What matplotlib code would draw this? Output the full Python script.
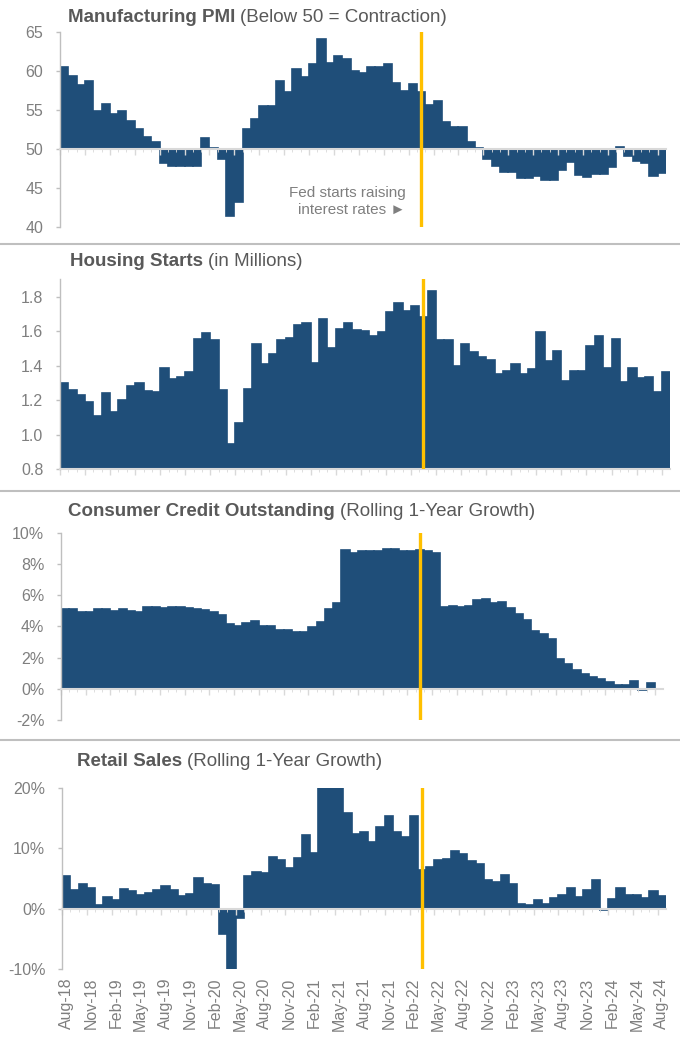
import matplotlib
matplotlib.use("Agg")
import matplotlib.pyplot as plt
import matplotlib.transforms as mtransforms
from matplotlib.lines import Line2D
import numpy as np
import pandas as pd

plt.rcParams["font.family"] = ["Liberation Sans", "DejaVu Sans"]

# ---- data (monthly, Aug-18 .. Aug-24) ----
months = list(pd.date_range("2018-08-01", periods=73, freq="MS").strftime("%b-%y"))
tick_labels = months[::3]
fed_hike = "Mar-22"

pmi = [60.6, 59.4, 58.3, 58.7, 54.9, 55.8, 54.5, 54.9, 53.6, 52.6,
       51.6, 51.0, 48.3, 47.9, 47.9, 47.9, 47.8, 51.4, 50.2, 48.8,
       41.5, 43.3, 52.6, 53.9, 55.5, 55.6, 58.8, 57.4, 60.3, 59.3,
       60.9, 64.2, 61.1, 61.9, 61.6, 60.1, 59.8, 60.6, 60.6, 60.9,
       58.5, 57.5, 58.4, 57.4, 55.7, 56.2, 53.5, 52.9, 52.9, 50.9,
       50.2, 48.8, 47.9, 47.1, 47.1, 46.3, 46.3, 46.6, 46.1, 46.1,
       47.3, 48.4, 46.7, 46.5, 46.8, 46.8, 47.7, 50.3, 49.1, 48.5,
       48.3, 46.6, 47.0]

housing = [1.300, 1.260, 1.230, 1.190, 1.110, 1.240, 1.130, 1.200, 1.280, 1.300,
           1.255, 1.247, 1.385, 1.320, 1.334, 1.364, 1.552, 1.587, 1.547, 1.260,
           0.946, 1.067, 1.263, 1.526, 1.410, 1.468, 1.549, 1.560, 1.637, 1.645,
           1.416, 1.669, 1.500, 1.612, 1.645, 1.606, 1.600, 1.574, 1.593, 1.712,
           1.762, 1.717, 1.748, 1.683, 1.833, 1.549, 1.549, 1.400, 1.526, 1.478,
           1.453, 1.433, 1.353, 1.372, 1.410, 1.353, 1.380, 1.593, 1.426, 1.483,
           1.314, 1.372, 1.372, 1.516, 1.574, 1.387, 1.552, 1.307, 1.387, 1.330,
           1.337, 1.249, 1.366]

# consumer credit ends Jul-24
credit = [5.10, 5.10, 4.95, 4.95, 5.10, 5.10, 4.97, 5.10, 5.01, 4.95,
          5.25, 5.25, 5.16, 5.25, 5.25, 5.16, 5.10, 5.03, 4.95, 4.73,
          4.13, 4.00, 4.20, 4.35, 4.00, 4.00, 3.79, 3.79, 3.64, 3.66,
          3.94, 4.30, 5.10, 5.52, 8.89, 8.68, 8.85, 8.80, 8.80, 8.93,
          8.97, 8.80, 8.85, 8.91, 8.80, 8.68, 5.26, 5.30, 5.26, 5.32,
          5.66, 5.75, 5.49, 5.53, 5.17, 4.81, 4.38, 3.68, 3.50, 3.18,
          1.92, 1.58, 1.18, 0.96, 0.75, 0.64, 0.43, 0.26, 0.26, 0.47,
          -0.10, 0.38]

retail = [5.47, 3.04, 4.14, 3.43, 0.61, 1.93, 1.38, 3.26, 2.87, 2.32,
          2.65, 3.04, 3.81, 3.04, 2.15, 2.49, 5.14, 4.14, 3.98, -4.14,
          -19.9, -1.49, 5.47, 6.00, 5.86, 8.62, 8.07, 6.80, 8.45, 12.2,
          9.28, 28.0, 51.0, 28.0, 15.9, 12.27, 12.6, 11.1, 13.5, 15.4,
          12.76, 11.8, 15.4, 6.46, 6.96, 8.12, 8.29, 9.56, 9.00, 7.96,
          7.35, 4.80, 4.36, 5.64, 4.14, 0.83, 0.61, 1.38, 0.83, 1.77,
          2.32, 3.43, 1.93, 3.04, 4.75, -0.28, 1.55, 3.43, 2.32, 2.32,
          1.77, 2.87, 2.10]

# ---- style ----
W, H = 680, 1044
BLUE = "#1f4e79"
GOLD = "#ffc000"
LIGHT = "#bfbfbf"
BASE = "#d9d9d9"
TXT = "#7f7f7f"
TITLE = "#595959"
TICK_FS = 11.5
TITLE_FS = 13.5

fig = plt.figure(figsize=(W / 100, H / 100), dpi=100)
renderer = fig.canvas.get_renderer()
n = len(months)
fed_x = months.index(fed_hike)


def add_panel(left, right, top, bottom):
    return fig.add_axes([left / W, 1 - bottom / H, (right - left) / W, (bottom - top) / H])


def style(ax, base, yticks, ylabels, ylim):
    ax.set_xlim(-0.5, n - 0.5)
    ax.set_ylim(*ylim)
    for s in ("top", "right"):
        ax.spines[s].set_visible(False)
    ax.spines["left"].set_color(LIGHT)
    ax.spines["left"].set_linewidth(1.0)
    ax.spines["bottom"].set_position(("data", base))
    ax.spines["bottom"].set_color(BASE)
    ax.spines["bottom"].set_linewidth(1.5)
    ax.set_yticks(yticks, ylabels)
    ax.tick_params(axis="y", length=3, width=1, color=LIGHT, labelcolor=TXT,
                   labelsize=TICK_FS, pad=9)
    ax.set_xticks(np.arange(0, n, 3) - 0.5)
    ax.set_xticks(np.arange(0, n) - 0.5, minor=True)
    ax.tick_params(axis="x", which="major", length=4, width=1, color=BASE,
                   labelbottom=False)
    ax.tick_params(axis="x", which="minor", length=2, width=0.6, color=BASE)
    ax.axvline(fed_x, color=GOLD, lw=2.4, zorder=4)


def panel_title(x_px, y_px, bold, rest):
    t = fig.text(x_px / W, 1 - y_px / H, bold, fontsize=TITLE_FS, fontweight="bold",
                 color=TITLE, ha="left", va="center")
    bb = t.get_window_extent(renderer)
    fig.text((bb.x1 + 5) / W, 1 - y_px / H, rest, fontsize=TITLE_FS, color=TITLE,
             ha="left", va="center")


def bars(ax, values, base=0):
    x = np.arange(len(values))
    v = np.asarray(values)
    ax.bar(x, v - base, bottom=base, width=1.0, color=BLUE, edgecolor=BLUE,
           linewidth=1.2, zorder=1)


# Manufacturing PMI
ax1 = add_panel(60, 666, 32.3, 227.3)
bars(ax1, pmi, base=50)
style(ax1, 50, [40, 45, 50, 55, 60, 65], ["40", "45", "50", "55", "60", "65"], (40, 65))
ax1.text(41.1, 43.3, "Fed starts raising\ninterest rates \u25ba", ha="right", va="center",
         multialignment="right", fontsize=11, color=TXT, linespacing=1.3)
panel_title(68, 17, "Manufacturing PMI", "(Below 50 = Contraction)")

# Housing starts
ax2 = add_panel(60, 670, 279.3, 469.3)
bars(ax2, housing)
hs_ticks = [0.8, 1.0, 1.2, 1.4, 1.6, 1.8]
style(ax2, 0.8, hs_ticks, [f"{t:.1f}" for t in hs_ticks], (0.8, 1.9))
panel_title(70, 261, "Housing Starts", "(in Millions)")

# Consumer credit
ax3 = add_panel(61, 663, 532.7, 720)
bars(ax3, credit)
cc_ticks = [-2, 0, 2, 4, 6, 8, 10]
style(ax3, 0, cc_ticks, [f"{t}%" for t in cc_ticks], (-2, 10))
panel_title(68, 511, "Consumer Credit Outstanding", "(Rolling 1-Year Growth)")

# Retail sales
ax4 = add_panel(62, 666, 787.7, 969.3)
bars(ax4, retail)
rs_ticks = [-10, 0, 10, 20]
style(ax4, 0, rs_ticks, [f"{t}%" for t in rs_ticks], (-10, 20))
panel_title(77, 762, "Retail Sales", "(Rolling 1-Year Growth)")

lab_tr = mtransforms.offset_copy(ax4.get_xaxis_transform(), fig=fig, y=-8.5, units="dots")
for i, lab in zip(range(0, n, 3), tick_labels):
    ax4.text(i, 0, lab, transform=lab_tr, rotation=90, ha="center", va="top",
             fontsize=TICK_FS, color=TXT)

# separators between panels
for y in (244, 491.5, 740):
    fig.add_artist(Line2D([0, 1], [1 - y / H, 1 - y / H], transform=fig.transFigure,
                          color=LIGHT, lw=1.5))

fig.savefig("out.png", dpi=100)
